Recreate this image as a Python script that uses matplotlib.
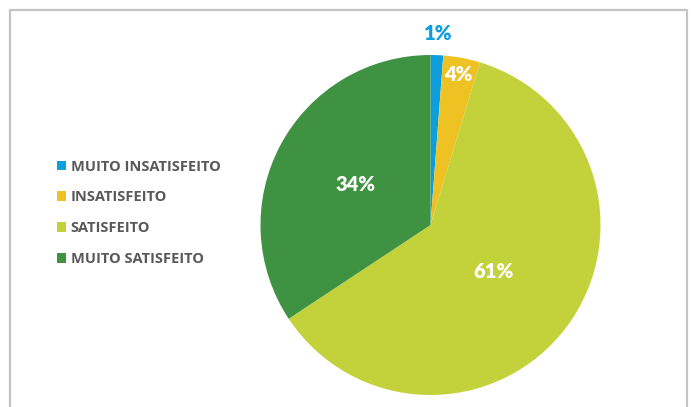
import numpy as np
import matplotlib
matplotlib.use("Agg")
import matplotlib.pyplot as plt

# dados
categorias = ['MUITO INSATISFEITO', 'INSATISFEITO', 'SATISFEITO', 'MUITO SATISFEITO']
valores = [1.2, 3.5, 61.0, 34.3]
rotulos = ['1%', '4%', '61%', '34%']
cores = ['#0d9fdd', '#efc224', '#c3d23b', '#3e9242']
cor_rotulo = ['#0d9fdd', 'white', 'white', 'white']
dist_rotulo = [1.13, 0.90, 0.46, 0.50]

fig = plt.figure(figsize=(6.91, 4.07), dpi=100)
ax = fig.add_axes([0, 0, 1, 1])

cx, cy, r = 430.5, 182, 170
wedges, _ = ax.pie(valores, colors=cores, startangle=90, counterclock=False,
                   center=(cx, cy), radius=r, frame=True)
ax.set_xlim(0, 691)
ax.set_ylim(0, 407)
ax.axis('off')

# moldura cinza
ax.plot([10.5, 10.5, 687, 687], [-5, 397.5, 397.5, -5], color='#c4c4c4', lw=1.6)

for w, txt, c, d in zip(wedges, rotulos, cor_rotulo, dist_rotulo):
    ang = np.deg2rad((w.theta1 + w.theta2) / 2)
    ax.text(cx + d * r * np.cos(ang), cy + d * r * np.sin(ang), txt,
            ha='center', va='center', color=c, fontsize=14.5, fontweight='heavy',
            family=['Lato', 'DejaVu Sans'])

leg = ax.legend(wedges, categorias, loc='upper left', bbox_to_anchor=(0.063, 0.64),
                frameon=False, handlelength=0.65, handleheight=0.65, handletextpad=0.3,
                labelspacing=1.15, prop={'family': 'Open Sans', 'weight': 'bold', 'size': 10.5})
for t in leg.get_texts():
    t.set_color('#595959')

fig.savefig('out.png', dpi=100)
